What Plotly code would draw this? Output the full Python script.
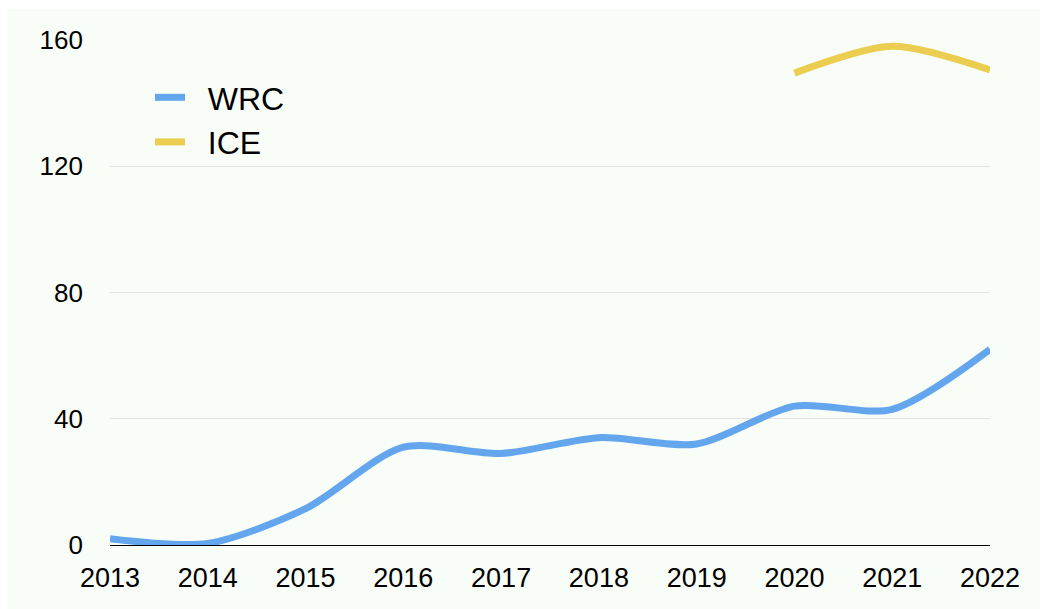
import plotly.graph_objects as go

years = [2013, 2014, 2015, 2016, 2017, 2018, 2019, 2020, 2021, 2022]
wrc = [2, 0.5, 11.5, 31, 29, 34, 32, 44, 43, 62]
ice_years = [2020, 2021, 2022]
ice = [149.5, 158, 150.5]
y_ticks = [0, 40, 80, 120, 160]

W, H = 1040, 609
ML, MR, MT, MB = 110, 50, 40, 64
pw, ph = W - ML - MR, H - MT - MB

# legend labels get a little padding after the line sample
PAD = "\u00a0\u00a0"

fig = go.Figure()
fig.add_trace(go.Scatter(
    x=years, y=wrc, name=PAD + "WRC", mode="lines",
    line=dict(color="#63A6EE", width=7, shape="spline", smoothing=0.8),
))
fig.add_trace(go.Scatter(
    x=ice_years, y=ice, name=PAD + "ICE", mode="lines",
    line=dict(color="#EBCD50", width=7, shape="spline", smoothing=0.8),
))

# pale background panel, inset from the top-left edges
def px_x(p):
    return (p - ML) / pw

def px_y(p):
    return (H - MB - p) / ph

fig.add_shape(
    type="rect", xref="paper", yref="paper", layer="below",
    x0=px_x(8), x1=px_x(1040), y0=px_y(609), y1=px_y(9),
    fillcolor="#F8FDF7", line=dict(width=0),
)

fig.update_layout(
    width=W, height=H,
    margin=dict(l=ML, r=MR, t=MT, b=MB),
    paper_bgcolor="white",
    plot_bgcolor="rgba(0,0,0,0)",
    font=dict(family="Liberation Sans, Arial, sans-serif", color="black", size=26),
    showlegend=True,
    legend=dict(
        x=px_x(150), y=px_y(70), xanchor="left", yanchor="top",
        bgcolor="rgba(0,0,0,0)", font=dict(size=32),
        itemwidth=30, tracegroupgap=0,
    ),
    xaxis=dict(
        range=[2013, 2022], tickmode="array", tickvals=years,
        showgrid=False, zeroline=False,
        showline=True, linecolor="black", linewidth=1.2,
        ticks="", ticklabelstandoff=8, tickfont=dict(size=27),
    ),
    yaxis=dict(
        range=[0, 160], tickmode="array", tickvals=y_ticks,
        showgrid=True, gridcolor="#E2E4E0", gridwidth=1,
        zeroline=False, showline=False,
        ticks="", ticklabelstandoff=26,
    ),
)

fig.write_html("out.html")
